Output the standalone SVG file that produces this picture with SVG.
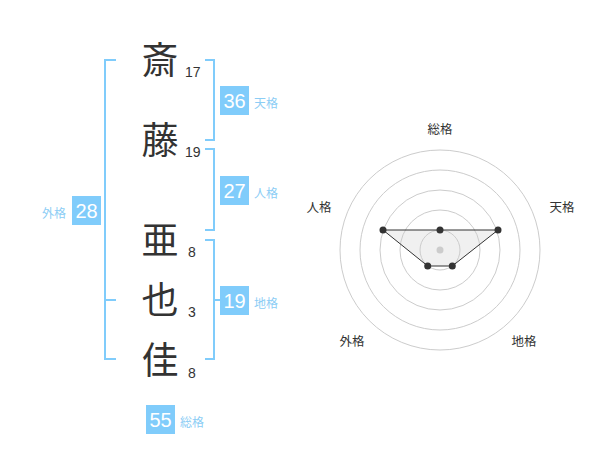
<svg xmlns="http://www.w3.org/2000/svg" width="600" height="470" viewBox="0 0 600 470">
<style>
.kanji{font-family:"Noto Sans CJK JP","Noto Sans CJK SC",sans-serif;font-size:37px;fill:#333;text-anchor:middle}
.num{font-family:"Liberation Sans",Arial,sans-serif;font-size:14px;fill:#333}
.br{fill:none;stroke:#80ccfb;stroke-width:2}
.box{fill:#80ccfb}
.bt{font-family:"Liberation Sans",Arial,sans-serif;font-size:20px;fill:#fff;text-anchor:middle}
.lb{font-family:"Noto Sans CJK JP",sans-serif;font-size:12px;fill:#8ccdf5}
.grid{fill:none;stroke:#ccc;stroke-width:1}
.ax{font-family:"Noto Sans CJK JP",sans-serif;font-size:12.5px;fill:#333;text-anchor:middle}
.pt{fill:#333}
</style>
<rect width="600" height="470" fill="#fff"/>
<g id="connectors">
<path class="br" d="M116,60 H105 V359 H116 M105,300 H116"/>
<path class="br" d="M205,60 H214 V140 H205"/>
<path class="br" d="M205,149 H214 V230 H205"/>
<path class="br" d="M205,240 H214 V359 H205 M214,300 H220"/>
</g>
<g id="char1"><text class="kanji" x="160" y="74">斎</text><text class="num" x="185" y="77">17</text></g>
<g id="char2"><text class="kanji" x="160" y="154">藤</text><text class="num" x="185" y="157">19</text></g>
<g id="char3"><text class="kanji" x="160" y="254">亜</text><text class="num" x="188" y="257">8</text></g>
<g id="char4"><text class="kanji" x="160" y="314">也</text><text class="num" x="188" y="317">3</text></g>
<g id="char5"><text class="kanji" x="160" y="374">佳</text><text class="num" x="188" y="378">8</text></g>
<g id="tenkaku"><rect class="box" x="220" y="86" width="29" height="29"/><text class="bt" x="234.5" y="108">36</text><text class="lb" x="254" y="108">天格</text></g>
<g id="jinkaku"><rect class="box" x="220" y="176" width="29" height="29"/><text class="bt" x="234.5" y="198">27</text><text class="lb" x="254" y="198">人格</text></g>
<g id="chikaku"><rect class="box" x="220" y="286" width="29" height="29"/><text class="bt" x="234.5" y="308">19</text><text class="lb" x="254" y="308">地格</text></g>
<g id="gaikaku"><rect class="box" x="72" y="196" width="29" height="29"/><text class="bt" x="86.5" y="218">28</text><text class="lb" x="42" y="218">外格</text></g>
<g id="soukaku"><rect class="box" x="146" y="405" width="29" height="29"/><text class="bt" x="160.5" y="427">55</text><text class="lb" x="180" y="427">総格</text></g>
<g id="radar">
<circle class="grid" cx="440" cy="250" r="20" fill="#eee"/>
<circle class="grid" cx="440" cy="250" r="40"/>
<circle class="grid" cx="440" cy="250" r="60"/>
<circle class="grid" cx="440" cy="250" r="80"/>
<circle class="grid" cx="440" cy="250" r="100"/>
<polygon points="440,230 498,230 452.3,266 427.7,266 383,230" fill="#ccc" fill-opacity="0.3" stroke="#333" stroke-width="1"/>
<circle cx="440" cy="250" r="3.5" fill="#ccc"/>
<circle class="pt" cx="440" cy="230" r="3.5"/>
<circle class="pt" cx="498" cy="230" r="3.5"/>
<circle class="pt" cx="452.3" cy="266" r="3.5"/>
<circle class="pt" cx="427.7" cy="266" r="3.5"/>
<circle class="pt" cx="383" cy="230" r="3.5"/>
<text class="ax" x="440" y="134">総格</text>
<text class="ax" x="562" y="212">天格</text>
<text class="ax" x="319" y="212">人格</text>
<text class="ax" x="524" y="346">地格</text>
<text class="ax" x="352" y="346">外格</text>
</g>
</svg>
